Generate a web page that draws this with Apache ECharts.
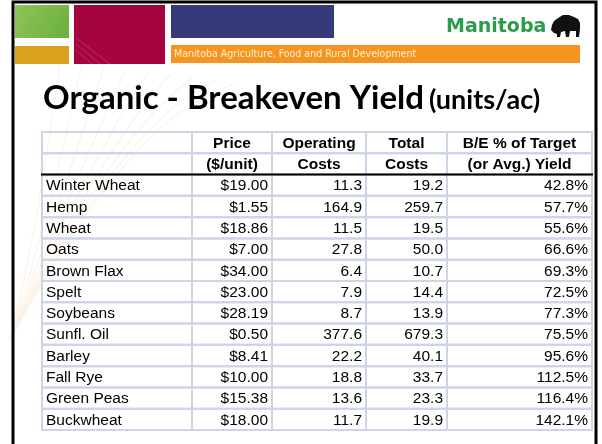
<!DOCTYPE html>
<html>
<head>
<meta charset="utf-8">
<script src="https://cdn.jsdelivr.net/npm/echarts@6/dist/echarts.min.js"></script>
<style>
  html, body { margin: 0; padding: 0; background: #fff; }
  #main { width: 602px; height: 444px; }
</style>
</head>
<body>
<div id="main"></div>
<script>
// table contents
const crops = ['Winter Wheat', 'Hemp', 'Wheat', 'Oats', 'Brown Flax', 'Spelt', 'Soybeans', 'Sunfl. Oil', 'Barley', 'Fall Rye', 'Green Peas', 'Buckwheat'];
const prices = [19.00, 1.55, 18.86, 7.00, 34.00, 23.00, 28.19, 0.50, 8.41, 10.00, 15.38, 18.00];
const operatingCosts = [11.3, 164.9, 11.5, 27.8, 6.4, 7.9, 8.7, 377.6, 22.2, 18.8, 13.6, 11.7];
const totalCosts = [19.2, 259.7, 19.5, 50.0, 10.7, 14.4, 13.9, 679.3, 40.1, 33.7, 23.3, 19.9];
const breakevenPct = [42.8, 57.7, 55.6, 66.6, 69.3, 72.5, 77.3, 75.5, 95.6, 112.5, 116.4, 142.1];
const headerTop = ['', 'Price', 'Operating', 'Total', 'B/E % of Target'];
const headerBottom = ['', '($/unit)', 'Costs', 'Costs', '(or Avg.) Yield'];

// column edges on the x axis (table is 550 units wide)
const colEdges = [0, 150, 230, 324, 405, 550];
const TABLE_FONT = '"Liberation Sans", Arial, sans-serif';

const chart = echarts.init(document.getElementById('main'), null, { renderer: 'canvas' });

// one entry per cell: [col, row, text, kind]
const cells = [];
for (let c = 0; c < headerTop.length; c++) {
  cells.push([c, 0, headerTop[c], 'head']);
  cells.push([c, 1, headerBottom[c], 'head']);
}
crops.forEach(function (name, i) {
  const r = i + 2;
  cells.push([0, r, name, 'left']);
  cells.push([1, r, '$' + prices[i].toFixed(2), 'right']);
  cells.push([2, r, operatingCosts[i].toFixed(1), 'right']);
  cells.push([3, r, totalCosts[i].toFixed(1), 'right']);
  cells.push([4, r, breakevenPct[i].toFixed(1) + '%', 'right']);
});

function renderCell(params, api) {
  const cell = cells[params.dataIndex];
  const c = cell[0], r = cell[1];
  const p0 = api.coord([colEdges[c], r]);
  const p1 = api.coord([colEdges[c + 1], r + 1]);
  const x = p0[0], y = p0[1], w = p1[0] - p0[0], h = p1[1] - p0[1];
  let tx, align;
  if (cell[3] === 'head') { tx = x + w / 2; align = 'center'; }
  else if (cell[3] === 'left') { tx = x + 4; align = 'left'; }
  else { tx = x + w - 4; align = 'right'; }
  return {
    type: 'group',
    children: [
      { type: 'rect', shape: { x: x, y: y, width: w, height: h },
        style: { fill: 'none', stroke: '#ccd4e6', lineWidth: 2 } },
      { type: 'text', x: tx, y: y + h / 2 + 1,
        style: { text: cell[2], align: align, verticalAlign: 'middle', fill: '#000',
                 fontFamily: TABLE_FONT, fontSize: 15.5,
                 fontWeight: cell[3] === 'head' ? 'bold' : 'normal' } }
    ]
  };
}

// header rule under the two header rows
function renderRule(params, api) {
  const a = api.coord([colEdges[0], 2]);
  const b = api.coord([colEdges[colEdges.length - 1], 2]);
  return { type: 'line', shape: { x1: a[0] - 1, y1: a[1], x2: b[0] + 1, y2: b[1] },
           style: { stroke: '#000', lineWidth: 2 } };
}

// faint fan of curves behind the table
const fan = [];
for (let k = 0; k < 9; k++) {
  fan.push({
    type: 'bezierCurve', silent: true, z: -10,
    shape: { x1: 10, y1: 340, cpx1: 40 + k * 12, cpy1: 220 - k * 14, x2: 60 + k * 22, y2: 60 + k * 3 },
    style: { stroke: '#fdf2e6', lineWidth: 1.2, fill: null }
  });
}

const option = {
  backgroundColor: '#fff',
  animation: false,
  title: {
    text: '{a|Organic - Breakeven Yield} {b|(units/ac)}',
    left: 38,
    top: 77,
    textStyle: {
      rich: {
        a: { fontFamily: 'Lato', fontWeight: 'bold', fontSize: 33, color: '#000', verticalAlign: 'bottom' },
        b: { fontFamily: 'Lato', fontWeight: 'bold', fontSize: 27, color: '#000', verticalAlign: 'bottom', padding: [0, 0, 1, 0] }
      }
    }
  },
  grid: { left: 42, top: 132, width: 550, height: 298 },
  xAxis: { type: 'value', min: 0, max: 550, show: false },
  yAxis: { type: 'value', min: 0, max: 14, inverse: true, show: false },
  graphic: fan.concat([
    // slide frame
    { type: 'rect', z: 100, silent: true, shape: { x: 13, y: 2, width: 583, height: 480 },
      style: { fill: 'none', stroke: '#000', lineWidth: 3 } },
    // banner blocks
    { type: 'rect', shape: { x: 15, y: 5, width: 54, height: 33 },
      style: { fill: new echarts.graphic.LinearGradient(0, 0, 1, 1, [
        { offset: 0, color: '#8fc45a' }, { offset: 1, color: '#6aae3e' }]) } },
    { type: 'rect', shape: { x: 15, y: 46, width: 54, height: 18 }, style: { fill: '#d9a11e' } },
    { type: 'rect', shape: { x: 74, y: 5, width: 91, height: 59 }, style: { fill: '#a6043f' } },
    { type: 'rect', shape: { x: 171, y: 5, width: 163, height: 33 }, style: { fill: '#363a7b' } },
    { type: 'rect', shape: { x: 171, y: 45, width: 409, height: 18 }, style: { fill: '#f7941f' } },
    { type: 'line', shape: { x1: 76, y1: 38, x2: 110, y2: 64 }, style: { stroke: 'rgba(255,255,255,0.18)', lineWidth: 1 } },
    { type: 'line', shape: { x1: 76, y1: 44, x2: 100, y2: 64 }, style: { stroke: 'rgba(255,255,255,0.18)', lineWidth: 1 } },
    { type: 'line', shape: { x1: 76, y1: 50, x2: 92, y2: 64 }, style: { stroke: 'rgba(255,255,255,0.18)', lineWidth: 1 } },
    { type: 'text', x: 174, y: 54,
      style: { text: 'Manitoba Agriculture, Food and Rural Development', fill: '#fff1d8',
               fontFamily: '"Liberation Sans Narrow", "DejaVu Sans Condensed", sans-serif', fontSize: 10.5,
               verticalAlign: 'middle' } },
    // logo
    { type: 'text', x: 446, y: 27,
      style: { text: 'Manitoba', fill: '#2b9c48', fontFamily: '"DejaVu Sans", sans-serif',
               fontWeight: 'bold', fontSize: 19, verticalAlign: 'middle' } },
    { type: 'polygon', x: 551, y: 15,
      shape: { points: [[0, 15], [1, 10], [3, 6], [7, 3], [12, 0], [18, 0], [23, 2], [27, 4], [29, 8], [29, 14], [28, 22],
                        [25, 22], [25, 16], [19, 16], [18, 22], [15, 22], [14, 16], [10, 17], [9, 22], [6, 22], [6, 19], [3, 18]] },
      style: { fill: '#111' } }
  ]),
  series: [
    {
      type: 'custom',
      clip: false,
      renderItem: renderCell,
      data: cells.map(function (cell) { return [colEdges[cell[0]], cell[1]]; }),
      z: 2
    },
    {
      type: 'custom',
      clip: false,
      renderItem: renderRule,
      data: [[0, 2]],
      z: 3
    }
  ]
};

chart.setOption(option);
</script>
</body>
</html>
